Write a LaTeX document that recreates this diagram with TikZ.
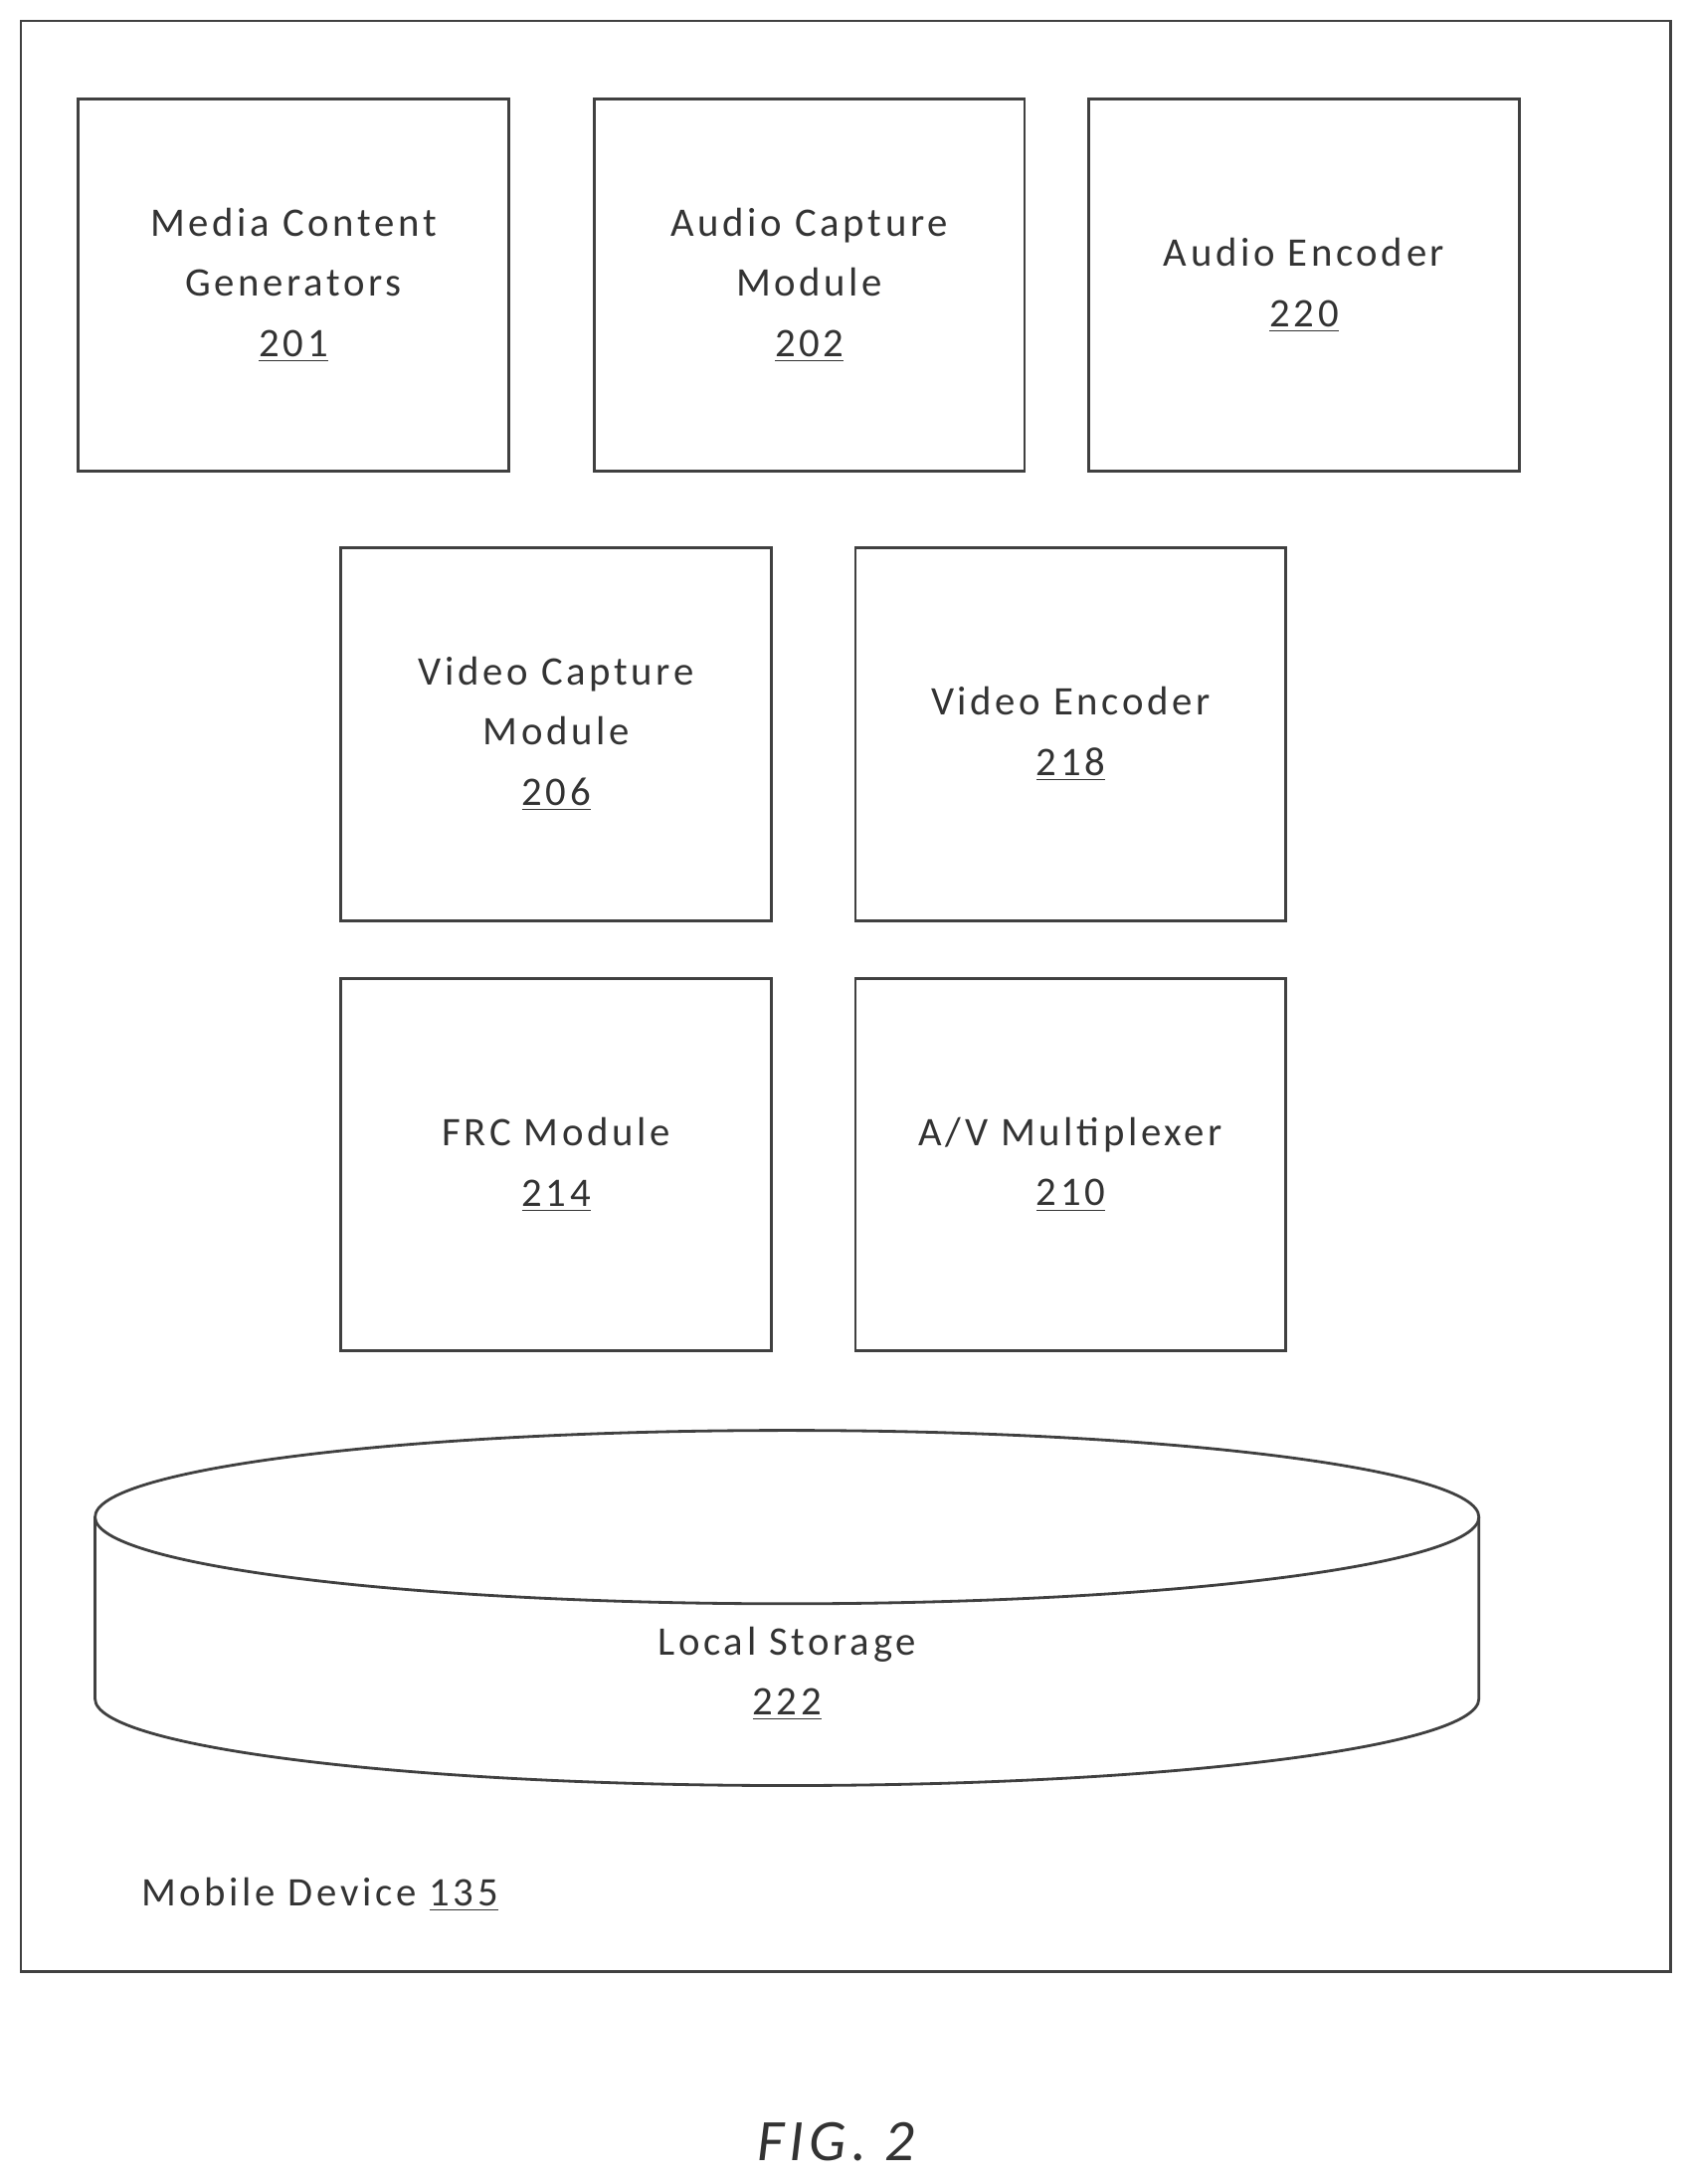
\documentclass[tikz,border=0pt]{standalone}
\usepackage{fontspec}
\setmainfont{Carlito}[LetterSpace=9]
\begin{document}
\begin{tikzpicture}[x=0.5pt,y=-0.5pt,
  box/.style={draw=black!75,line width=1pt,inner sep=0pt,align=center,
    font=\fontsize{14.5}{21.5}\selectfont,text=black!80},
  lbl/.style={align=center,font=\fontsize{14.5}{21.5}\selectfont,text=black!80}]
\useasboundingbox (0,0) rectangle (1208,1562);
\draw[black!75,line width=1pt] (15,15) rectangle (1195,1410);
\newcommand{\bx}[6]{\node[box,minimum width=#4*0.5pt-1pt,minimum height=#5*0.5pt-1pt] (#1) at (#2,#3) {#6};}
\bx{mcg}{210}{204}{310}{268}{Media Content\\Generators\\\underline{201}}
\bx{acm}{579}{204}{310}{268}{Audio Capture\\Module\\\underline{202}}
\bx{aen}{933}{204}{310}{268}{Audio Encoder\\\underline{220}}
\bx{vcm}{398}{525}{310}{269}{Video Capture\\Module\\\underline{206}}
\bx{ven}{766}{525}{310}{269}{Video Encoder\\\underline{218}}
\bx{frc}{398}{833}{310}{268}{FRC Module\\\underline{214}}
\bx{avm}{766}{833}{310}{268}{A/V Multiplexer\\\underline{210}}
% cylinder
\draw[black!75,line width=1pt,fill=white] (68,1085) -- (68,1215) arc[start angle=180,end angle=0,x radius=495,y radius=62] -- (1058,1085);
\draw[black!75,line width=1pt] (563,1085) ellipse[x radius=495,y radius=62];
\node[lbl] (ls) at (563,1197) {Local Storage\\\underline{222}};
\node[lbl,anchor=west] (md) at (94,1355) {Mobile Device \underline{135}};
\node[font=\fontsize{21}{24}\selectfont\itshape,text=black!80] (fig) at (598,1532) {FIG. 2};
\end{tikzpicture}
\end{document}
